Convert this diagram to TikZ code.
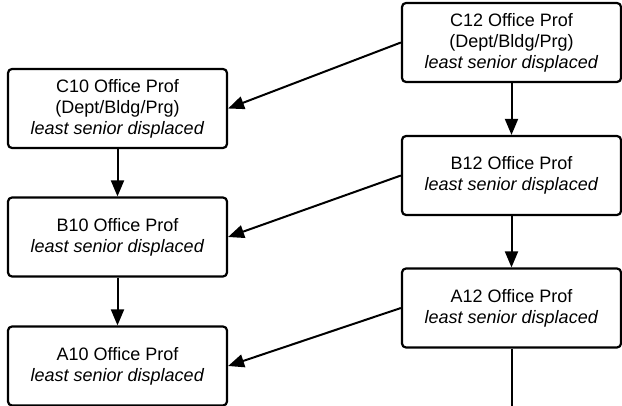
\documentclass[tikz,border=0pt]{standalone}
\usepackage{fontspec}
\setmainfont{Liberation Sans}
\usetikzlibrary{arrows.meta}
\begin{document}
\begin{tikzpicture}[x=1pt,y=-1pt,
  officebox/.style={draw, line width=2.2pt, rounded corners=4pt, fill=white,
    minimum width=219pt, minimum height=79pt, align=center, inner sep=0pt,
    font=\fontsize{18}{21}\selectfont},
  conn/.style={line width=2pt, -{Triangle[length=16pt,width=13pt]}},
  plain/.style={line width=2pt}]
\useasboundingbox (0,0) rectangle (622,406);
\node[officebox] (C10) at (117.5,108.5) {C10 Office Prof\\(Dept/Bldg/Prg)\\\textit{least senior displaced}};
\node[officebox] (B10) at (117.5,237) {B10 Office Prof\\\textit{least senior displaced}};
\node[officebox] (A10) at (117.5,366) {A10 Office Prof\\\textit{least senior displaced}};
\node[officebox] (C12) at (511.5,42.5) {C12 Office Prof\\(Dept/Bldg/Prg)\\\textit{least senior displaced}};
\node[officebox] (B12) at (511.5,175.5) {B12 Office Prof\\\textit{least senior displaced}};
\node[officebox] (A12) at (511.5,308) {A12 Office Prof\\\textit{least senior displaced}};
\coordinate (end) at (511.5,410);
\draw[conn] (C10) -- (B10);
\draw[conn] (B10) -- (A10);
\draw[conn] (C12) -- (B12);
\draw[conn] (B12) -- (A12);
\draw[plain] (A12) -- (end);
\draw[conn] (C12.west) -- (C10.east);
\draw[conn] (B12.west) -- (B10.east);
\draw[conn] (A12.west) -- (A10.east);
\end{tikzpicture}
\end{document}
